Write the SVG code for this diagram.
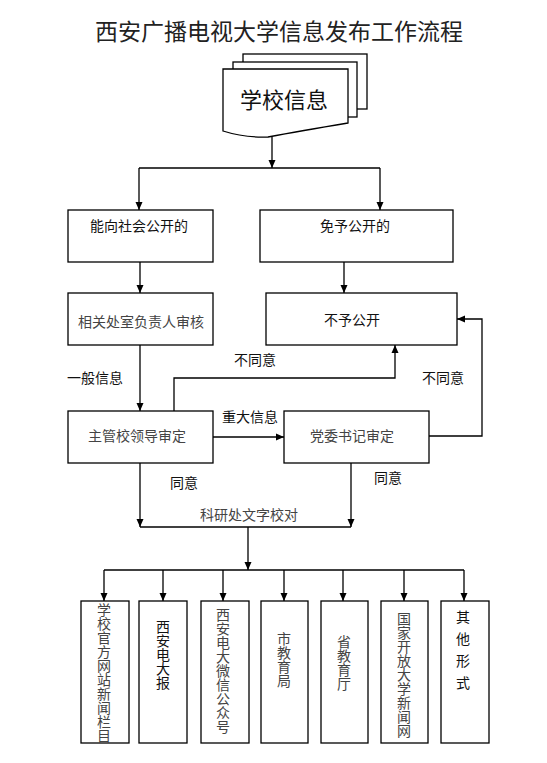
<svg xmlns="http://www.w3.org/2000/svg" width="547" height="763" viewBox="0 0 547 763">
<style>
text{font-family:"Noto Sans CJK SC","Noto Sans",sans-serif;font-size:14px;fill:#111;text-anchor:middle}
.g{fill:#444}
.t{font-size:23px;fill:#222}
.v{writing-mode:vertical-rl;text-anchor:start}
.box{fill:#fff;stroke:#000;stroke-width:1.3}
.c{fill:none;stroke:#000;stroke-width:1.3}
.a{marker-end:url(#ah)}
</style>
<defs>
<marker id="ah" markerUnits="userSpaceOnUse" markerWidth="9" markerHeight="9" refX="8" refY="4" orient="auto">
<path d="M0,0.5 L8,4 L0,7.5 Z" fill="#000"/>
</marker>
</defs>
<rect width="547" height="763" fill="#fff"/>
<text class="t" x="279" y="40">西安广播电视大学信息发布工作流程</text>

<g id="doc">
<rect class="box" x="243" y="54" width="124" height="55"/>
<rect class="box" x="233" y="62" width="124" height="55"/>
<path class="box" d="M223,69 H348 V123 Q300,131 268,137 Q245,138 223,131 Z"/>
<text x="284" y="108" style="font-size:22px">学校信息</text>
</g>

<g id="connectors">
<path class="c a" d="M272,137 V168"/>
<path class="c" d="M139,168 H380"/>
<path class="c a" d="M139,168 V210"/>
<path class="c a" d="M380,168 V210"/>
<path class="c a" d="M140,262 V293"/>
<path class="c a" d="M344,262 V293"/>
<path class="c a" d="M140,345 V411"/>
<path class="c a" d="M213,437 H284"/>
<path class="c a" d="M174,411 V378 H395 V345"/>
<path class="c a" d="M429,436 H482 V319 H457"/>
<path class="c a" d="M140,463 V527"/>
<path class="c a" d="M351,463 V527"/>
<path class="c" d="M140,527 H351"/>
<path class="c a" d="M248,527 V570"/>
<path class="c" d="M104,570 H464"/>
<path class="c a" d="M104,570 V601"/>
<path class="c a" d="M163,570 V601"/>
<path class="c a" d="M223,570 V601"/>
<path class="c a" d="M284,570 V601"/>
<path class="c a" d="M343,570 V601"/>
<path class="c a" d="M404,570 V601"/>
<path class="c a" d="M464,570 V601"/>
</g>

<g id="labels">
<text x="95" y="383">一般信息</text>
<text x="255" y="365">不同意</text>
<text x="443" y="383">不同意</text>
<text x="250" y="422">重大信息</text>
<text x="184" y="488">同意</text>
<text x="388" y="483">同意</text>
<text class="g" x="249" y="520">科研处文字校对</text>
</g>

<g id="n-public">
<rect class="box" x="68" y="210" width="145" height="52"/>
<text x="139" y="231">能向社会公开的</text>
</g>
<g id="n-exempt">
<rect class="box" x="260" y="210" width="193" height="52"/>
<text x="355" y="231">免予公开的</text>
</g>
<g id="n-dept">
<rect class="box" x="68" y="293" width="145" height="52"/>
<text class="g" x="141" y="327">相关处室负责人审核</text>
</g>
<g id="n-no">
<rect class="box" x="266" y="293" width="191" height="52"/>
<text x="352" y="325">不予公开</text>
</g>
<g id="n-leader">
<rect class="box" x="68" y="411" width="145" height="52"/>
<text class="g" x="137" y="441">主管校领导审定</text>
</g>
<g id="n-party">
<rect class="box" x="284" y="411" width="145" height="52"/>
<text class="g" x="352" y="441">党委书记审定</text>
</g>

<g id="o1">
<rect class="box" x="81" y="601" width="48" height="142"/>
<text class="g v" x="104" y="603">学校官方网站新闻栏目</text>
</g>
<g id="o2">
<rect class="box" x="139" y="601" width="48" height="142"/>
<text class="v" x="163" y="620">西安电大报</text>
</g>
<g id="o3">
<rect class="box" x="201" y="601" width="48" height="142"/>
<text class="g v" x="223" y="608">西安电大微信公众号</text>
</g>
<g id="o4">
<rect class="box" x="261" y="601" width="47" height="142"/>
<text class="g v" x="284" y="632">市教育局</text>
</g>
<g id="o5">
<rect class="box" x="321" y="601" width="47" height="142"/>
<text class="g v" x="344" y="635">省教育厅</text>
</g>
<g id="o6">
<rect class="box" x="381" y="601" width="47" height="142"/>
<text class="g v" x="404" y="612">国家开放大学新闻网</text>
</g>
<g id="o7">
<rect class="box" x="441" y="601" width="48" height="142"/>
<text class="v" x="463" y="610" style="letter-spacing:8px">其他形式</text>
</g>
</svg>
